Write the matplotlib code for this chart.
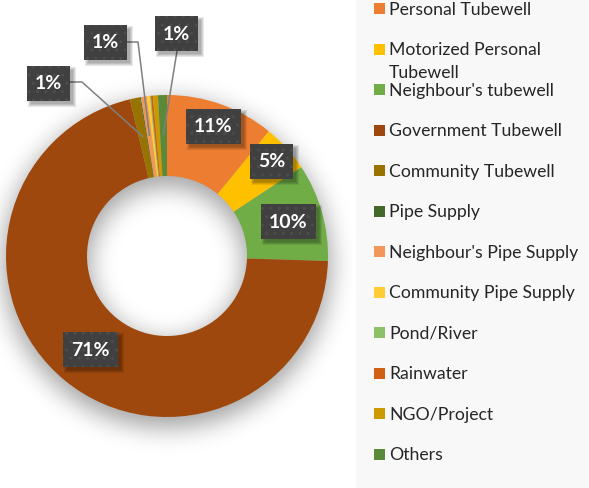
import numpy as np
import matplotlib
matplotlib.use("Agg")
import matplotlib.pyplot as plt
from matplotlib.patches import Rectangle

# Drinking water sources (share of households, %)
sources = ["Personal Tubewell", "Motorized Personal\nTubewell", "Neighbour's tubewell",
           "Government Tubewell", "Community Tubewell", "Pipe Supply",
           "Neighbour's Pipe Supply", "Community Pipe Supply", "Pond/River",
           "Rainwater", "NGO/Project", "Others"]
share = [10.9, 4.8, 9.8, 70.8, 1.0, 0.1, 0.6, 0.3, 0.1, 0.2, 0.5, 0.9]
colors = ["#ED7D31", "#FFC000", "#70AD47", "#9E480E", "#997300", "#43682B",
          "#F1975A", "#FFCD33", "#8CC168", "#D26012", "#CC9A00", "#5A8A39"]

# slices that get a label inside the ring, and their label radius
inner_labels = {0: 138, 1: 141, 2: 126, 3: 121}
# small slices with call-out boxes: box centre, line start, elbow
callouts = {4: ((48.5, 83), (70, 82), (82, 82)),
            6: ((105.5, 42.5), (127, 42), (138, 42)),
            11: ((176.5, 33.5), (177, 51), None)}

W, H = 589, 488
cx, cy, R, r_in = 167, 256, 161, 80
FONT = ["Lato", "DejaVu Sans"]

fig = plt.figure(figsize=(W / 100, H / 100), dpi=100)
ax = fig.add_axes([0, 0, 1, 1])

# soft drop shadow behind the ring
def blur(a, s):
    k = np.arange(-3 * s, 3 * s + 1)
    g = np.exp(-k ** 2 / (2.0 * s * s))
    g /= g.sum()
    a = np.apply_along_axis(lambda m: np.convolve(m, g, mode="same"), 0, a)
    a = np.apply_along_axis(lambda m: np.convolve(m, g, mode="same"), 1, a)
    return a

yy, xx = np.mgrid[0:H, 0:W] + 0.5
d = np.hypot(xx - cx, yy - (cy + 8))
mask = ((d <= R + 3) & (d >= r_in - 3)).astype(float)
shadow = blur(mask, 12)
rgba = np.zeros((H, W, 4))
rgba[..., 3] = 0.36 * shadow
ax.imshow(rgba, extent=(0, W, H, 0), zorder=0, interpolation="bilinear")

# legend panel
ax.add_patch(Rectangle((356, 0), W - 356, H, color="#f8f8f8", lw=0, zorder=0.5))

wedges, _ = ax.pie(share, colors=colors, startangle=270, counterclock=True,
                   radius=R, center=(cx, cy),
                   wedgeprops=dict(width=R - r_in, linewidth=0))
for w in wedges:
    w.set_zorder(2)

ax.set_xlim(0, W)
ax.set_ylim(H, 0)
ax.set_aspect("equal")
ax.axis("off")

total = sum(share)
mids = (np.cumsum(share) - np.array(share) / 2) / total * 360 + 270


def at(i, rad):
    t = np.deg2rad(mids[i])
    return cx + rad * np.cos(t), cy + rad * np.sin(t)


def tag(x, y, v):
    s = f"{round(v)}%"
    bw, bh = 43 + 12 * (len(s) - 2), 35
    x0, y0 = x - bw / 2, y - bh / 2
    # blurred shadow, down and to the right
    for g in range(4):
        ax.add_patch(Rectangle((x0 + 4 - g, y0 + 4 - g), bw + 2 * g - 1, bh + 2 * g - 1,
                               fc="black", alpha=0.09, lw=0, zorder=4.5))
    ax.add_patch(Rectangle((x0, y0), bw, bh, fc="#404040", ec="#4d4d4d",
                           lw=0, hatch="..", zorder=5))
    ax.text(x, y + 0.5, s, color="white", fontsize=14, fontweight="bold",
            family=FONT, ha="center", va="center", zorder=6)


for i, rad in inner_labels.items():
    tag(*at(i, rad), share[i])

for i, (c, start, elbow) in callouts.items():
    px, py = at(i, 122)
    xs = [start[0]] + ([elbow[0]] if elbow else []) + [px]
    ys = [start[1]] + ([elbow[1]] if elbow else []) + [py]
    ax.plot(xs, ys, color="#7f7f7f", lw=1.1, zorder=4)
    tag(c[0], c[1], share[i])

# legend entries
for i, (name, col) in enumerate(zip(sources, colors)):
    y = 8.5 + 40.5 * i
    ax.add_patch(Rectangle((374, y - 5.5), 11, 11, color=col, lw=0, zorder=3))
    for k, line in enumerate(name.split("\n")):
        ax.text(389, y + 6.3 + 23 * k, line, fontsize=12.7, color="#262626",
                family=FONT, va="baseline", zorder=3)

fig.savefig("out.png", dpi=100)
